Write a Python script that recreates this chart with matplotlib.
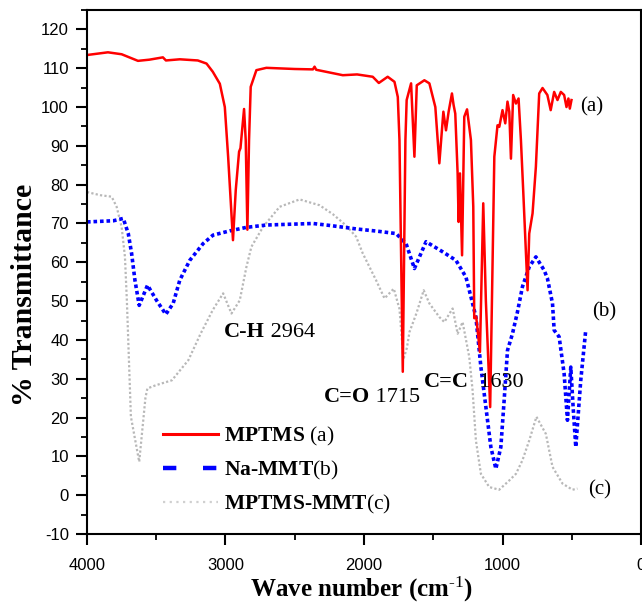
import matplotlib
matplotlib.use("Agg")
import matplotlib.pyplot as plt
from matplotlib.lines import Line2D

# ---------------- data ----------------
mptms_wn = [4000, 3849, 3750, 3632, 3550, 3452, 3430, 3330, 3200, 3137, 3092, 3041, 3005, 2981,
            2946, 2926, 2902, 2892, 2866, 2854, 2842, 2830, 2818, 2777, 2705, 2500, 2369, 2357,
            2345, 2249, 2153, 2050, 1937, 1893, 1829, 1780, 1756, 1744, 1720, 1701, 1692, 1660,
            1636, 1619, 1564, 1528, 1485, 1456, 1427, 1408, 1389, 1365, 1353, 1341, 1324, 1317,
            1307, 1292, 1276, 1256, 1228, 1211, 1204, 1190, 1163, 1139, 1120, 1089, 1059, 1036,
            1023, 1000, 980, 964, 951, 939, 923, 903, 884, 867, 850, 819, 807, 783, 759, 735,
            711, 676, 652, 627, 603, 579, 555, 538, 524, 514, 502]
mptms_t = [113.4, 114.1, 113.6, 111.9, 112.2, 112.8, 112.0, 112.3, 112.0, 111.2, 109.1, 106.0,
           100.0, 87.2, 65.7, 78.6, 88.5, 89.4, 99.5, 91.5, 68.4, 91.5, 105.2, 109.5, 110.1,
           109.8, 109.7, 110.4, 109.6, 108.9, 108.2, 108.4, 107.8, 106.2, 107.8, 106.5, 102.6,
           91.5, 31.8, 91.5, 101.8, 106.1, 87.2, 105.6, 106.9, 106.1, 100.0, 85.5, 98.8, 94.0,
           98.8, 103.5, 100.5, 98.3, 82.9, 70.4, 82.9, 61.8, 97.5, 99.4, 91.5, 74.3, 45.6, 46.0,
           36.9, 75.2, 50.0, 22.7, 87.2, 95.3, 94.9, 99.2, 95.8, 101.4, 98.8, 86.7, 103.1, 100.9,
           102.2, 91.5, 78.1, 52.8, 67.4, 72.6, 84.6, 103.5, 104.9, 103.1, 99.2, 103.9, 101.8,
           103.9, 103.1, 100.0, 102.2, 99.6, 101.8]

namm_wn = [4000, 3810, 3738, 3702, 3678, 3654, 3623, 3563, 3498, 3431, 3378, 3330, 3258, 3162,
           3090, 2969, 2849, 2705, 2369, 2249, 2057, 1900, 1768, 1696, 1636, 1552, 1432, 1336,
           1264, 1216, 1192, 1156, 1120, 1084, 1048, 1012, 988, 964, 928, 892, 856, 807, 759,
           700, 676, 639, 627, 591, 555, 531, 507, 490, 471, 435, 399]
namm_t = [70.4, 70.7, 71.3, 67.4, 62.3, 55.4, 48.9, 54.1, 50.2, 46.6, 49.4, 55.4, 60.5, 64.8,
          67.0, 68.1, 69.0, 69.6, 70.0, 69.5, 68.6, 68.0, 67.4, 64.8, 58.4, 65.3, 62.7, 60.5,
          56.2, 49.4, 45.9, 33.0, 22.7, 12.4, 6.8, 12.4, 24.5, 37.3, 41.6, 47.2, 53.7, 58.8,
          61.4, 58.0, 55.9, 49.4, 42.5, 40.8, 31.3, 19.3, 33.0, 22.7, 12.4, 29.6, 42.5]

mix_wn = [4000, 3906, 3822, 3786, 3750, 3726, 3712, 3683, 3623, 3578, 3564, 3505, 3387, 3268,
          3180, 3092, 3017, 2957, 2897, 2849, 2813, 2729, 2609, 2465, 2321, 2225, 2130, 2057,
          2009, 1913, 1852, 1785, 1744, 1715, 1690, 1672, 1620, 1569, 1528, 1456, 1420, 1360,
          1324, 1288, 1240, 1216, 1192, 1156, 1096, 1024, 951, 903, 856, 807, 755, 687, 639,
          567, 495, 459]
mix_t = [78.1, 77.3, 76.9, 74.3, 69.1, 61.4, 50.0, 20.2, 8.6, 25.1, 27.5, 28.3, 29.6, 34.8,
         41.6, 47.7, 52.0, 46.8, 50.2, 58.8, 64.0, 69.1, 74.3, 76.2, 74.7, 72.4, 69.5, 66.6,
         62.3, 55.4, 50.7, 53.2, 48.0, 35.0, 38.0, 42.0, 47.0, 52.8, 49.4, 45.9, 44.6, 48.1,
         41.6, 44.6, 35.6, 27.0, 14.1, 5.5, 2.1, 1.4, 3.8, 5.5, 9.0, 14.1, 20.2, 15.8, 7.3,
         3.0, 1.4, 1.7]

x_ticks = [4000, 3000, 2000, 1000, 0]
y_ticks = list(range(-10, 121, 10))

# ---------------- style ----------------
plt.rcParams['mathtext.fontset'] = 'custom'
plt.rcParams['mathtext.rm'] = 'Liberation Serif'
plt.rcParams['mathtext.bf'] = 'Liberation Serif:bold'
plt.rcParams['mathtext.it'] = 'Liberation Serif:italic'

serif = ['Liberation Serif', 'DejaVu Serif']
sans = ['Liberation Sans', 'DejaVu Sans']

fig = plt.figure(figsize=(6.42, 6.06), dpi=100)
ax = fig.add_axes([87/642, 1-534/606, 554/642, 524/606])

c_red = '#ff0000'
c_blue = '#0000ff'
c_gray = '#b8b8b8'

ax.plot(mix_wn, mix_t, color=c_gray, lw=1.6, linestyle=(0, (1, 1)))
ax.plot(namm_wn, namm_t, color=c_blue, lw=2.6, linestyle=(0, (1, 0.8)))
ax.plot(mptms_wn, mptms_t, color=c_red, lw=1.8)

ax.set_xlim(4000, 0)
ax.set_ylim(-10, 125)
ax.set_xticks(x_ticks)
ax.set_xticks([3500, 2500, 1500, 500], minor=True)
ax.set_yticks(y_ticks)
ax.set_yticks([v + 5 for v in y_ticks], minor=True)
ax.set_xticklabels([str(v) for v in x_ticks])
ax.set_yticklabels([str(v) for v in y_ticks])

ax.tick_params(which='major', direction='out', length=8, width=1.5, labelsize=12, pad=5)
ax.tick_params(which='minor', direction='out', length=4, width=1.3)
ax.tick_params(axis='x', which='major', pad=9)
ax.tick_params(top=False, right=False)
for lab in ax.get_xticklabels() + ax.get_yticklabels():
    lab.set_family(sans)
for sp in ax.spines.values():
    sp.set_linewidth(1.5)

ax.set_ylabel('% Transmittance', family=serif, fontweight='bold', fontsize=21.5, va='center')
ax.yaxis.set_label_coords(-0.1137, 0.456)
ax.set_xlabel(r'Wave number (cm$^{\text{-1}}$)', family=serif, fontweight='bold',
              fontsize=18, va='center')
ax.xaxis.set_label_coords(0.496, -0.106)

# curve tags
ax.text(442, 100.0, '(a)', family=serif, fontsize=15, ha='left', va='center')
ax.text(355, 47.2, '(b)', family=serif, fontsize=15, ha='left', va='center')
ax.text(382, 1.3, '(c)', family=serif, fontsize=15, ha='left', va='center')


# band annotations: bold group name followed by regular wavenumber
def band_label(x, y, name, number):
    t1 = ax.text(x, y, name, family=serif, fontweight='bold', fontsize=16,
                 ha='left', va='center')
    ax.annotate(number, xy=(1, 0), xycoords=t1, family=serif, fontsize=16,
                ha='left', va='bottom')


band_label(3013, 42.0, 'C-H', ' 2964')
band_label(2292, 25.2, 'C=O', ' 1715')
band_label(1571, 29.1, 'C=C', '  1630')

# legend
handles = [Line2D([], [], color=c_red, lw=2.2),
           Line2D([], [], color=c_blue, lw=3.2, linestyle=(0, (3, 6))),
           Line2D([], [], color='#d0d0d0', lw=1.6, linestyle=(0, (1, 2)))]
labels = [r'$\mathbf{MPTMS}$ (a)', r'$\mathbf{Na}$-$\mathbf{MMT}$(b)',
          r'$\mathbf{MPTMS}$-$\mathbf{MMT}$(c)']
leg = ax.legend(handles, labels, loc='upper left',
                bbox_to_anchor=(163/642, 1-425/606), bbox_transform=fig.transFigure,
                frameon=False, prop={'family': serif, 'size': 15.5},
                handlelength=2.55, handletextpad=0.3, labelspacing=0.5,
                borderpad=0, borderaxespad=0)

fig.savefig('out.png', dpi=100)
